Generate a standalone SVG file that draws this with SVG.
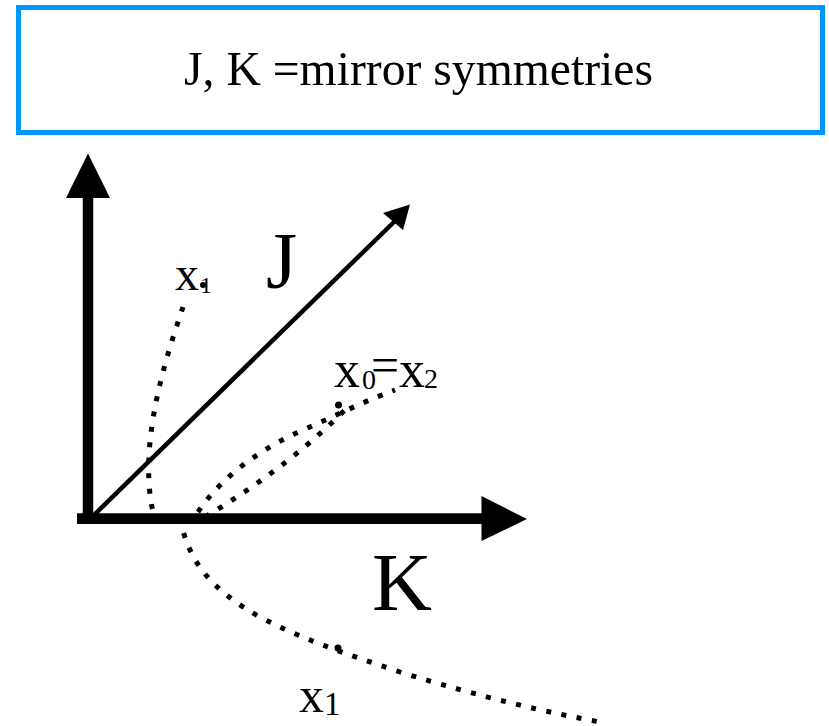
<svg xmlns="http://www.w3.org/2000/svg" width="829" height="726" viewBox="0 0 829 726">
<style>
.lbl{font-family:"Liberation Serif","Times New Roman",serif;fill:#000}
.dot{fill:none;stroke:#000;stroke-width:5;stroke-dasharray:5 10.5}
.axis{fill:none;stroke:#000}
</style>
<rect width="829" height="726" fill="#fff"/>
<g id="title">
<rect x="18.5" y="7.5" width="804" height="125" fill="#fff" stroke="#0096FF" stroke-width="5"/>
<text class="lbl" x="184" y="85" font-size="49" textLength="469" lengthAdjust="spacingAndGlyphs">J, K =mirror symmetries</text>
</g>
<g id="connectors">
<path class="axis" d="M88,524 V196" stroke-width="10.5"/>
<polygon points="88,153.5 66,198 110,198"/>
<path class="axis" d="M77,518.7 H483" stroke-width="10.7"/>
<polygon points="527,519 481.5,496 481.5,541"/>
<path class="axis" d="M93,516 L396,220" stroke-width="4.5"/>
<polygon points="410,204.5 383,213 403,230"/>
<path class="dot" d="M183,307 C165,360 138,445 153,512"/>
<path class="dot" d="M180,518 C188,560 210,590 262,618 C300,638 340,652 400,672 C480,697 550,713 600,722"/>
<path class="dot" d="M198,512 C222,476 262,448 303,430 S360,403 395,390"/>
<path class="dot" d="M205,517 C250,490 300,455 346,409"/>
</g>
<g id="label-J"><text class="lbl" x="266" y="288" font-size="80">J</text></g>
<g id="label-K"><text class="lbl" x="372" y="610" font-size="83">K</text></g>
<g id="x1-top">
<text class="lbl" x="175" y="290" font-size="48">x</text>
<text class="lbl" x="200" y="293" font-size="24">1</text>
<circle cx="203" cy="285" r="3"/>
</g>
<g id="x0-x2">
<text class="lbl" x="334" y="387" font-size="52">x</text>
<text class="lbl" x="362" y="389" font-size="28">0</text>
<text class="lbl" x="371" y="382" font-size="50">=</text>
<text class="lbl" x="399" y="387" font-size="52">x</text>
<text class="lbl" x="424" y="388" font-size="28">2</text>
<circle cx="338.5" cy="405" r="3.5"/>
</g>
<g id="x1-bottom">
<text class="lbl" x="299" y="712" font-size="50">x</text>
<text class="lbl" x="324" y="715" font-size="33">1</text>
<circle cx="338" cy="648" r="3.5"/>
</g>
</svg>
